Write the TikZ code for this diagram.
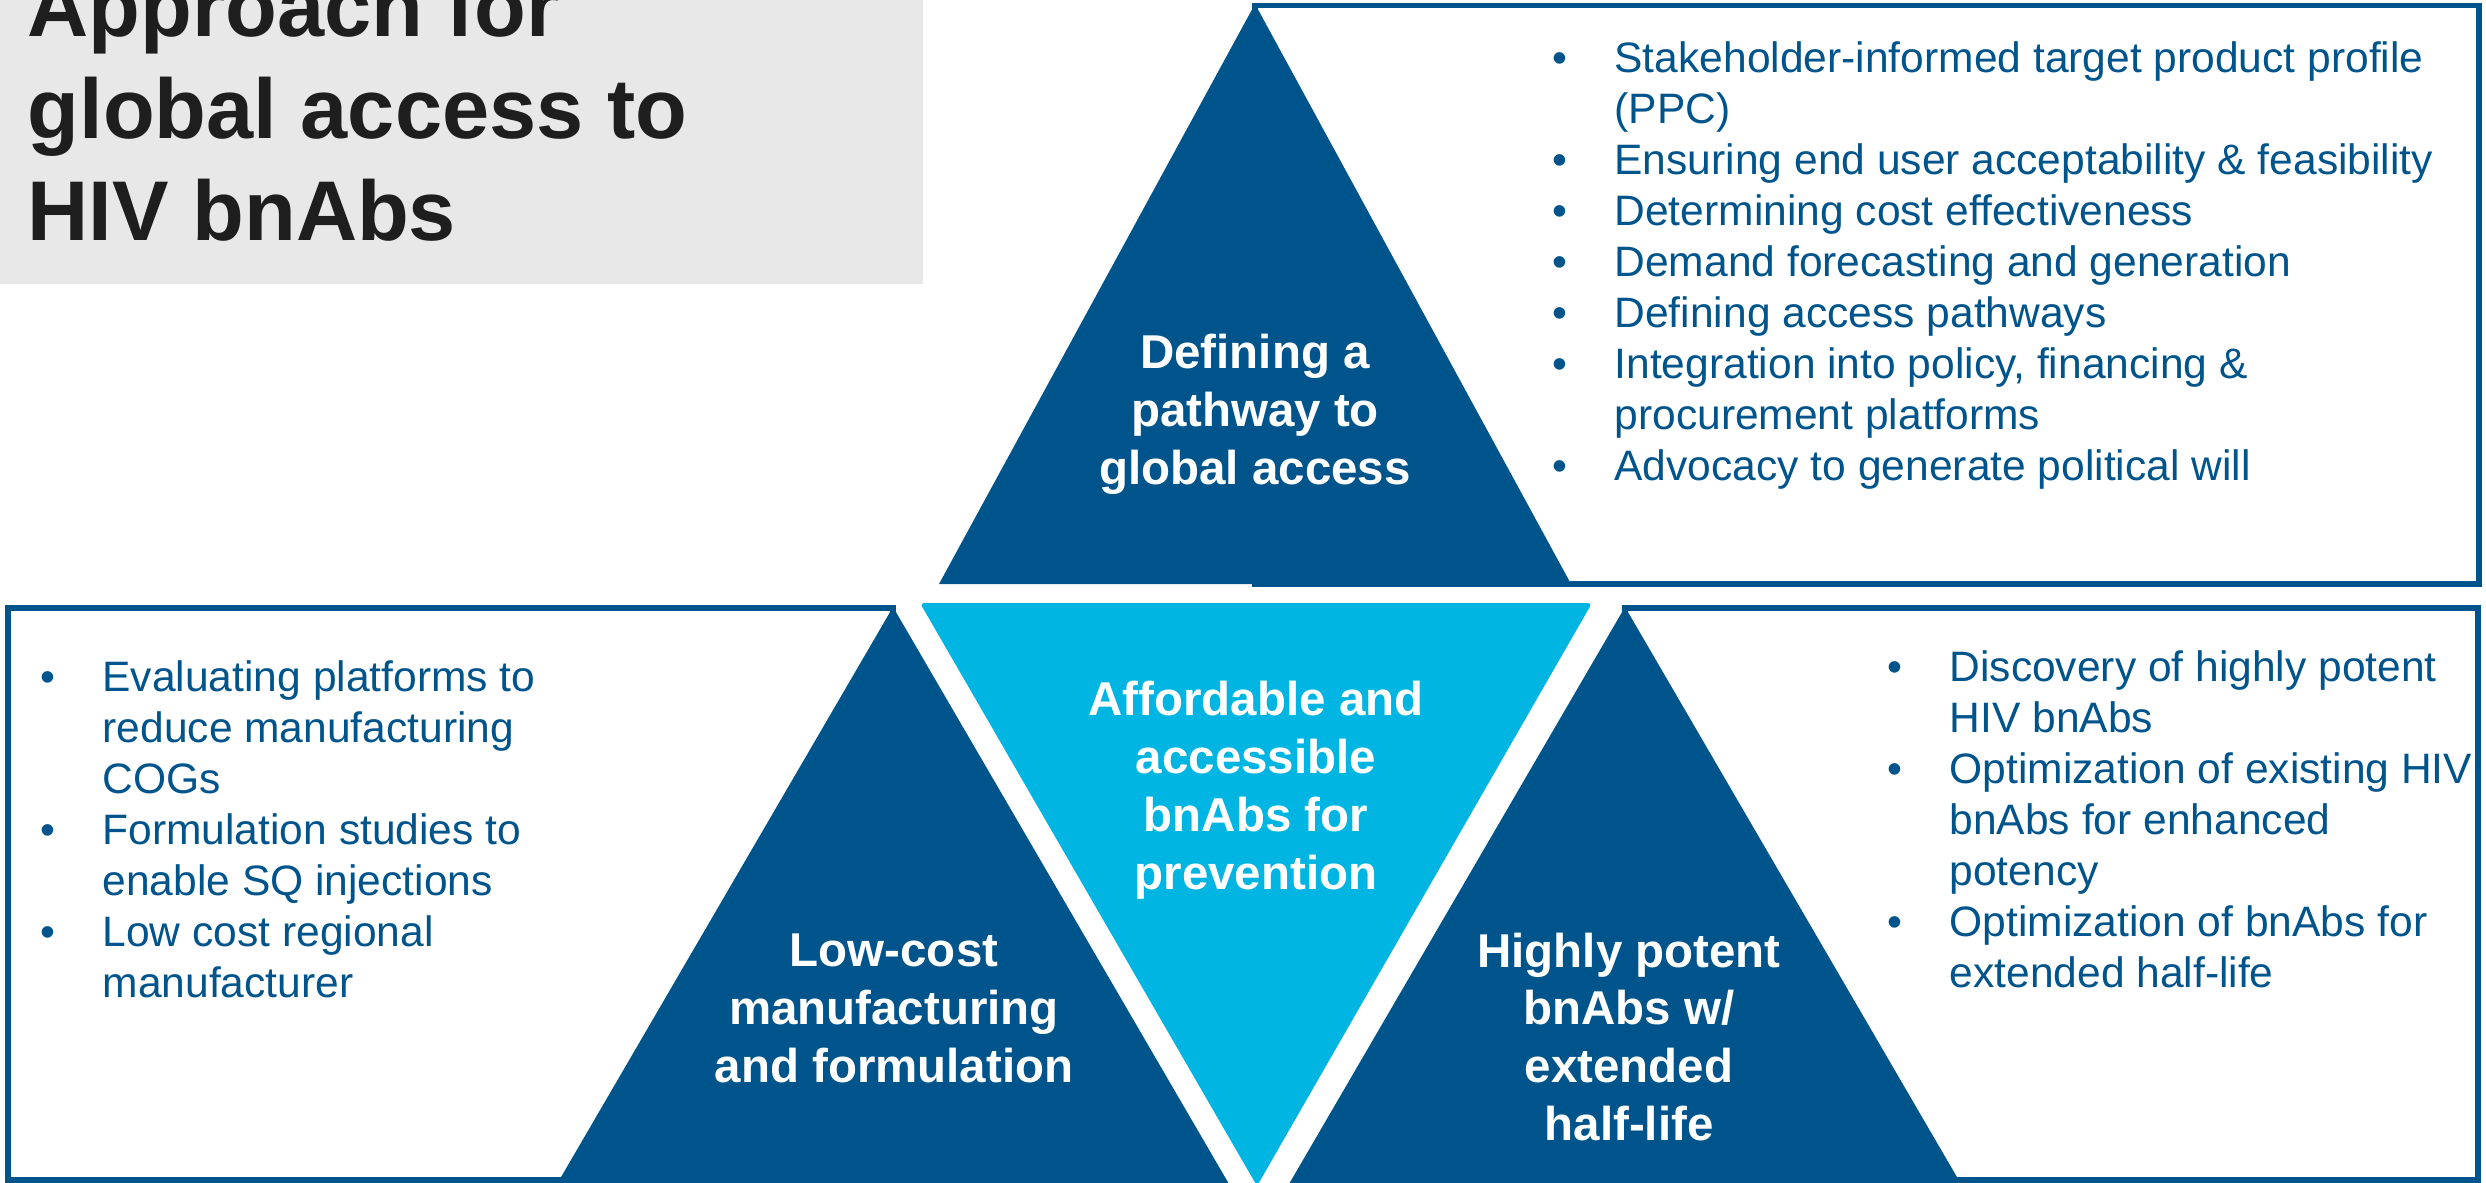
\documentclass[tikz,border=0pt]{standalone}
\usepackage{fontspec}
\setmainfont{Liberation Sans}

\definecolor{navy}{RGB}{0,84,140}
\definecolor{sky}{RGB}{0,181,226}
\definecolor{titlegray}{RGB}{232,232,232}
\definecolor{ink}{RGB}{30,30,30}

\newcommand{\bul}{\makebox[17.6pt][l]{\textbullet}}
\newcommand{\cont}{\hspace*{17.6pt}}

\begin{document}
\begin{tikzpicture}[x=0.01cm, y=-0.01cm,
  panel/.style={draw=navy, line width=1.5pt, fill=white},
  lbl/.style={font=\bfseries\fontsize{13.5}{16.4}\selectfont, text=white, align=center, inner sep=0pt, anchor=base},
  bullets/.style={font=\fontsize{12.1}{14.5}\selectfont, text=navy, align=left, inner sep=0pt, anchor=base west}]
  \useasboundingbox (0,0) rectangle (2486,1182);
  \clip (0,0) rectangle (2486,1182);

  % title (anchored at its last baseline)
  \fill[titlegray] (0,0) rectangle (923,284);
  \node[font=\bfseries\fontsize{24.1}{29}\selectfont, text=ink, align=left, inner sep=0pt, anchor=base west] (title) at (27,240) {Approach for\\global access to\\HIV bnAbs};

  % panels
  \draw[panel] (1255,5.5) rectangle (2479,584);
  \draw[panel] (8,608) rectangle (893,1180);
  \draw[panel] (1625,608) rectangle (2478,1180);

  % triangles
  \fill[navy] (1255,4) -- (1571,584) -- (939,584) -- cycle;
  \fill[navy] (893,607) -- (1229,1184) -- (557,1184) -- cycle;
  \fill[navy] (1625,607) -- (1961,1184) -- (1289,1184) -- cycle;
  \fill[sky, rounded corners=0.4mm] (920,603) -- (1592,603) -- (1257,1186) -- cycle;

  \node[lbl] (pathway) at (1255,484) {Defining a\\pathway to\\global access};
  \node[lbl] (afford) at (1256,889) {Affordable and\\accessible\\bnAbs for\\prevention};
  \node[lbl] (lowcost) at (894,1082) {Low-cost\\manufacturing\\and formulation};
  \node[lbl] (potent) at (1629,1140) {Highly potent\\bnAbs w/\\extended\\half-life};

  % bullet lists (anchored at their last baseline)
  \node[bullets] (pathwayList) at (1552,480) {\bul Stakeholder-informed target product profile\\
    \cont (PPC)\\
    \bul Ensuring end user acceptability \& feasibility\\
    \bul Determining cost effectiveness\\
    \bul Demand forecasting and generation\\
    \bul Defining access pathways\\
    \bul Integration into policy, financing \&\\
    \cont procurement platforms\\
    \bul Advocacy to generate political will};
  \node[bullets] (lowcostList) at (40,997) {\bul Evaluating platforms to\\
    \cont reduce manufacturing\\
    \cont COGs\\
    \bul Formulation studies to\\
    \cont enable SQ injections\\
    \bul Low cost regional\\
    \cont manufacturer};
  \node[bullets] (potentList) at (1887,987) {\bul Discovery of highly potent\\
    \cont HIV bnAbs\\
    \bul Optimization of existing HIV\\
    \cont bnAbs for enhanced\\
    \cont potency\\
    \bul Optimization of bnAbs for\\
    \cont extended half-life};
\end{tikzpicture}
\end{document}
